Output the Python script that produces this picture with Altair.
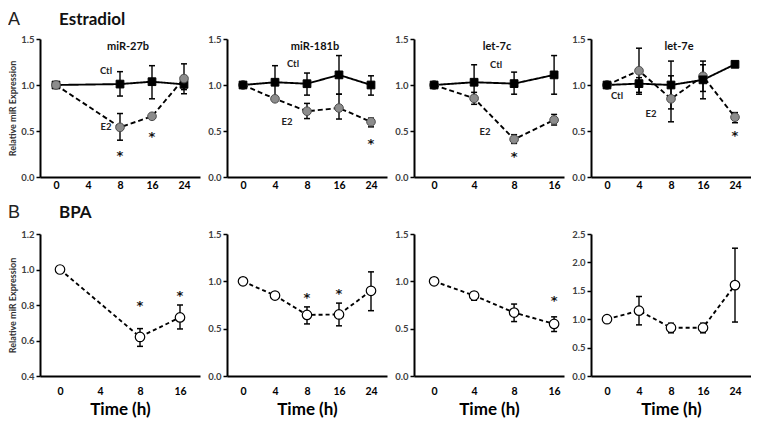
import altair as alt
import pandas as pd

FONT = "Lato"

# ---------------- Row A : Estradiol ----------------
A_TITLES = ["miR-27b", "miR-181b", "let-7c", "let-7e"]
A_CATS = [["0", "4", "8", "16", "24"], ["0", "4", "8", "16", "24"],
          ["0", "4", "8", "16"], ["0", "4", "8", "16", "24"]]
A_T = [["0", "8", "16", "24"], ["0", "4", "8", "16", "24"],
       ["0", "4", "8", "16"], ["0", "4", "8", "16", "24"]]

CTL_MEAN = [[1.0, 1.01, 1.036, 1.007], [1.0, 1.03, 1.014, 1.11, 1.0],
            [1.0, 1.03, 1.015, 1.11], [1.0, 1.015, 1.0, 1.056, 1.225]]
CTL_LO = [[None, 0.88, 0.85, 0.905], [None, 0.855, 0.89, 0.90, 0.89],
          [None, 0.85, 0.90, 0.90], [None, 0.92, 0.74, 0.85, 1.20]]
CTL_HI = [[None, 1.145, 1.21, 1.10], [None, 1.21, 1.13, 1.32, 1.10],
          [None, 1.22, 1.14, 1.32], [None, 1.08, 1.26, 1.22, 1.25]]

E2_MEAN = [[1.0, 0.54, 0.66, 1.07], [1.0, 0.85, 0.715, 0.75, 0.60],
           [1.0, 0.855, 0.41, 0.62], [1.0, 1.155, 0.85, 1.095, 0.65]]
E2_LO = [[None, 0.40, None, 0.95], [None, None, 0.635, 0.63, 0.545],
         [None, 0.79, 0.365, 0.565], [None, 0.90, 0.60, 0.93, 0.59]]
E2_HI = [[None, 0.69, None, 1.23], [None, None, 0.80, 0.90, 0.64],
         [None, 0.92, 0.46, 0.68], [None, 1.40, 1.10, 1.26, 0.70]]

# (label, category, value, pixel nudge)
A_ANNOT = [[("Ctl", "8", 1.15, -14), ("E2", "8", 0.54, -14)],
           [("Ctl", "8", 1.23, -14), ("E2", "8", 0.60, -20)],
           [("Ctl", "8", 1.22, -18), ("E2", "8", 0.49, -29)],
           [("Ctl", "0", 0.88, 10), ("E2", "4", 0.69, 12)]]
A_STARS = [[("8", 0.26), ("16", 0.47)], [("24", 0.39)], [("8", 0.25)], [("24", 0.48)]]

# ---------------- Row B : BPA ----------------
B_CATS = [["0", "4", "8", "16"], ["0", "4", "8", "16", "24"],
          ["0", "4", "8", "16"], ["0", "4", "8", "16", "24"]]
B_T = [["0", "8", "16"], ["0", "4", "8", "16", "24"],
       ["0", "4", "8", "16"], ["0", "4", "8", "16", "24"]]
BPA_MEAN = [[1.0, 0.62, 0.73], [1.0, 0.85, 0.645, 0.65, 0.90],
            [1.0, 0.85, 0.67, 0.55], [1.0, 1.15, 0.85, 0.85, 1.60]]
BPA_LO = [[None, 0.567, 0.665], [None, None, 0.55, 0.53, 0.69],
          [None, 0.80, 0.575, 0.47], [None, 0.90, 0.76, 0.76, 0.95]]
BPA_HI = [[None, 0.667, 0.80], [None, None, 0.73, 0.77, 1.10],
          [None, 0.89, 0.76, 0.625], [None, 1.40, 0.93, 0.93, 2.25]]
B_STARS = [[("8", 0.81), ("16", 0.87)], [("8", 0.855), ("16", 0.90)], [("16", 0.82)], []]
B_YDOM = [[0.4, 1.2], [0.0, 1.5], [0.0, 1.5], [0.0, 2.5]]
B_YTICKS = [[0.4, 0.6, 0.8, 1.0, 1.2], [0.0, 0.5, 1.0, 1.5],
            [0.0, 0.5, 1.0, 1.5], [0.0, 0.5, 1.0, 1.5, 2.0, 2.5]]
A_YDOM = [0.0, 1.5]
A_YTICKS = [0.0, 0.5, 1.0, 1.5]

# panel widths and point-scale placement (padding, align) per row
A_W = [160, 160, 150, 160]
A_PAD = [(0.5, 0.5), (0.5, 0.5), (0.375, 0.67), (0.5, 0.5)]
B_W = [160, 160, 150, 160]
B_PAD = [(0.5, 0.5), (0.5, 0.5), (0.375, 0.67), (0.5, 0.5)]
H_TOP = 138
H_BOT = 142

STYLES = {
    "Ctl": dict(dash=[1, 0], shape="square", fill="black", stroke="black", size=60, sw=1),
    "E2": dict(dash=[5, 3], shape="circle", fill="#8c8c8c", stroke="#4d4d4d", size=75, sw=1),
    "BPA": dict(dash=[4, 3], shape="circle", fill="white", stroke="black", size=90, sw=1.2),
}


def sdf(name, times, mean, lo, hi):
    return pd.DataFrame({"s": name, "t": times, "k": list(range(len(times))),
                         "v": mean, "lo": lo, "hi": hi})


def panel(cats, series, w, h, pad, ydom, yticks, title=None, annots=(), stars=(),
          ytitle=False, xtitle=False, header=None, top_series=None, lab_pad=3):
    xaxis = alt.Axis(labelPadding=lab_pad, titlePadding=5)
    X = alt.X("t:N", sort=cats, axis=xaxis,
              scale=alt.Scale(type="point", domain=cats, padding=pad[0], align=pad[1]),
              title="Time (h)" if xtitle else None)
    yaxis = alt.Axis(values=yticks, format=".1f")

    def Y(field):
        return alt.Y(f"{field}:Q", scale=alt.Scale(domain=ydom, nice=False, zero=False),
                     axis=yaxis, title="Relative miR Expression" if ytitle else None)

    layers = []
    for name, df in series:
        st = STYLES[name]
        layers.append(alt.Chart(df).mark_line(color="black", strokeWidth=1.9,
                                              strokeDash=st["dash"])
                      .encode(x=X, y=Y("v"), order=alt.Order("k:Q")))
    for name, df in series:
        eb = df.dropna(subset=["lo"])
        if len(eb):
            layers.append(alt.Chart(eb).mark_rule(color="black", strokeWidth=1.4)
                          .encode(x=X, y=Y("lo"), y2=alt.Y2("hi:Q")))
            for f in ("lo", "hi"):
                layers.append(alt.Chart(eb).mark_tick(color="black", orient="horizontal",
                                                      size=6, thickness=1.5, opacity=1)
                              .encode(x=X, y=Y(f)))
    order = [s for s in series if s[0] != top_series] + [s for s in series if s[0] == top_series]
    for name, df in order:
        st = STYLES[name]
        layers.append(alt.Chart(df).mark_point(shape=st["shape"], filled=True, fill=st["fill"],
                                               stroke=st["stroke"], strokeWidth=st["sw"],
                                               size=st["size"], opacity=1, fillOpacity=1)
                      .encode(x=X, y=Y("v")))
    for a in annots:
        adf = pd.DataFrame({"lab": [a[0]], "t": [a[1]], "v": [a[2]]})
        layers.append(alt.Chart(adf).mark_text(font=FONT, fontWeight="bold", fontSize=9.5,
                                               color="#222", dx=a[3], align="center")
                      .encode(x=X, y=Y("v"), text="lab:N"))
    if stars:
        sdf_ = pd.DataFrame({"t": [s[0] for s in stars], "v": [s[1] for s in stars],
                             "lab": ["*"] * len(stars)})
        layers.append(alt.Chart(sdf_).mark_text(font="DejaVu Sans", fontWeight="bold",
                                                fontSize=13, color="#111", dy=3,
                                                baseline="middle", opacity=0.99)
                      .encode(x=X, y=Y("v"), text="lab:N"))
    if title:
        layers.append(alt.Chart(pd.DataFrame({"lab": [title]}))
                      .mark_text(font=FONT, fontWeight="bold", fontSize=11, color="#111",
                                 baseline="middle")
                      .encode(x=alt.value(w / 2 + 8), y=alt.value(8), text="lab:N"))
    if header:
        letter, name, hy = header
        hd = pd.DataFrame({"lab": [letter]})
        layers.append(alt.Chart(hd).mark_text(font="Liberation Sans", fontSize=18,
                                              color="#222", align="left", baseline="middle")
                      .encode(x=alt.value(-32), y=alt.value(hy), text="lab:N"))
        hn = pd.DataFrame({"lab": [name]})
        layers.append(alt.Chart(hn).mark_text(font=FONT, fontWeight="bold", fontSize=17,
                                              color="#111", align="left", baseline="middle")
                      .encode(x=alt.value(19), y=alt.value(hy), text="lab:N"))
    return alt.layer(*layers).properties(width=w, height=h)


top_panels = []
for i in range(4):
    series = [("Ctl", sdf("Ctl", A_T[i], CTL_MEAN[i], CTL_LO[i], CTL_HI[i])),
              ("E2", sdf("E2", A_T[i], E2_MEAN[i], E2_LO[i], E2_HI[i]))]
    top_panels.append(panel(A_CATS[i], series, A_W[i], H_TOP, A_PAD[i], A_YDOM, A_YTICKS,
                            title=A_TITLES[i], annots=A_ANNOT[i], stars=A_STARS[i],
                            ytitle=(i == 0), xtitle=False,
                            header=("A", "Estradiol", -19) if i == 0 else None,
                            top_series="E2" if i == 0 else "Ctl", lab_pad=3))

bot_panels = []
for i in range(4):
    series = [("BPA", sdf("BPA", B_T[i], BPA_MEAN[i], BPA_LO[i], BPA_HI[i]))]
    bot_panels.append(panel(B_CATS[i], series, B_W[i], H_BOT, B_PAD[i], B_YDOM[i], B_YTICKS[i],
                            stars=B_STARS[i], ytitle=(i == 0), xtitle=True,
                            header=("B", "BPA", -21) if i == 0 else None, lab_pad=10))

top = alt.hconcat(*top_panels, spacing=7)
bot = alt.hconcat(*bot_panels, spacing=7)

chart = (alt.vconcat(top, bot, spacing=13)
         .properties(padding={"left": 0, "top": 3, "right": 0, "bottom": 0})
         .configure_view(strokeWidth=0, stroke="transparent")
         .configure_axis(grid=False, domainColor="black", domainWidth=2, tickColor="black",
                         labelFont=FONT, titleFont=FONT)
         .configure_axisY(tickSize=4, tickWidth=1.5, labelFontSize=9.5, labelFontWeight="bold",
                          labelColor="#404040", labelPadding=2, titleFontSize=9,
                          titleFontWeight="bold", titleColor="#333", titlePadding=3)
         .configure_axisX(ticks=False, labelFontSize=10.5, labelFontWeight="bold",
                          labelColor="black", labelAngle=0, titleFontSize=17,
                          titleFontWeight="bold", titleColor="black"))

chart.save("out.html", embed_options={"renderer": "svg", "actions": False})
